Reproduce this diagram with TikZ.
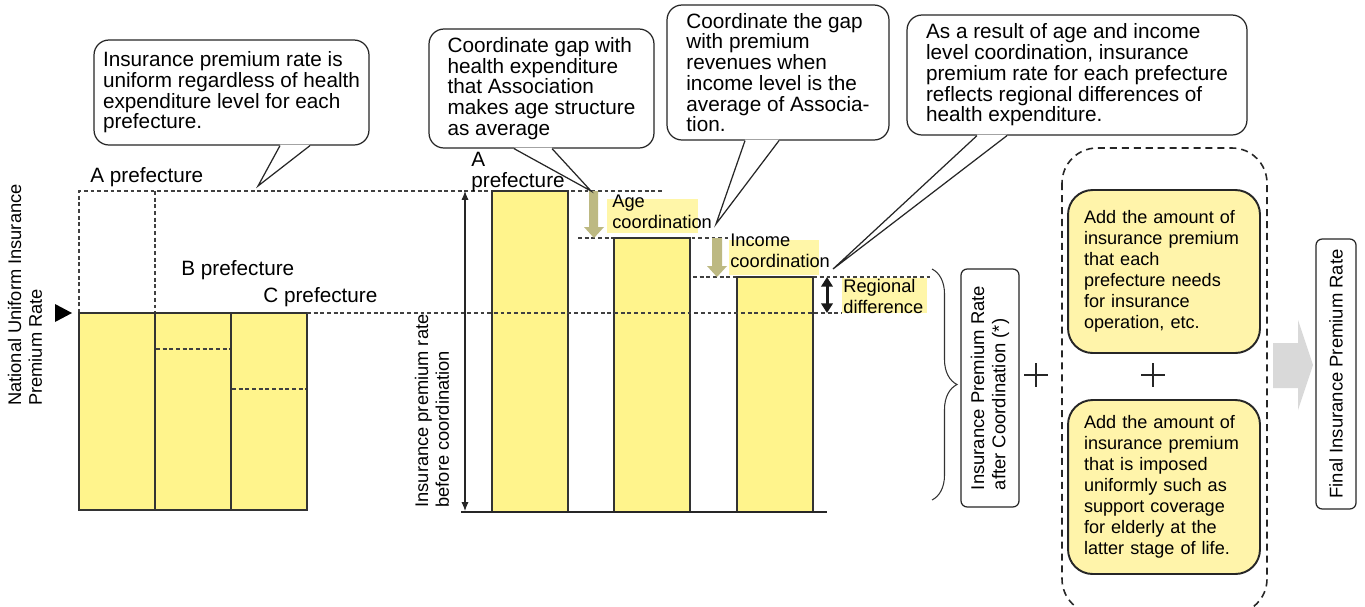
\documentclass[tikz,border=0pt]{standalone}
\usepackage{fontspec}
\setmainfont{Liberation Sans}
\usetikzlibrary{arrows.meta,decorations.pathreplacing}
\definecolor{barfill}{HTML}{FFF48C}
\definecolor{hilitefill}{HTML}{FFF6A8}
\definecolor{addfill}{HTML}{FFF4AA}
\definecolor{olivearrow}{HTML}{BDB982}
\definecolor{grayarrow}{HTML}{D9D9D9}
\begin{document}
\begin{tikzpicture}[x=0.02cm,y=-0.02cm,
  bar/.style={draw=black!80,line width=0.8pt,fill=barfill},
  guide/.style={draw=black!75,line width=0.6pt,dash pattern=on 2.2pt off 1.6pt},
  bubble/.style={draw=black!85,line width=0.7pt,fill=white,rounded corners=8.5pt,align=left,inner sep=0pt,font=\fontsize{11.8}{11.8}\selectfont},
  tailline/.style={draw=black!85,line width=0.7pt},
  big/.style={inner sep=0pt,font=\fontsize{11.8}{11.6}\selectfont},
  small/.style={inner sep=0pt,font=\fontsize{10.4}{11.8}\selectfont},
  addbox/.style={draw=black!85,line width=1.1pt,fill=addfill,rounded corners=14pt,align=left,text width=3.2cm,inner xsep=0.32cm,minimum width=3.84cm,font=\fontsize{10.3}{12}\selectfont},
  ratebox/.style={draw=black!85,line width=0.7pt,rounded corners=3.5pt,rotate=90,align=left,inner sep=0pt,font=\fontsize{10.5}{12}\selectfont},
  plus/.style={draw=black!85,line width=0.8pt},
]
\clip (0,0) rectangle (1365,606);
\fill[white] (0,0) rectangle (1365,606);

\draw[guide] (79,313) -- (79,191) -- (662,191);
\draw[guide] (155,191) -- (155,313);
\draw[guide] (578,238) -- (728,238);
\draw[guide] (693,277) -- (930,277);

\draw[bar] (79,313) rectangle (155,510);
\draw[bar] (155,313) rectangle (231,510);
\draw[bar] (231,313) rectangle (307,510);
\draw[guide] (156,349) -- (230,349);
\draw[guide] (232,389) -- (306,389);

\draw[bar] (492,191) rectangle (568,512);
\draw[bar] (614,238) rectangle (690,512);
\draw[bar] (737,277) rectangle (813,512);
\draw[guide] (307,313) -- (842,313);
\draw[black!85,line width=1.6pt] (461,512) -- (827,512);

\fill[black] (55,304) -- (72,313) -- (55,322) -- cycle;

\coordinate (ratetop) at (465,191);
\coordinate (ratebot) at (465,511);
\draw[black!85,line width=0.6pt,{Latex[length=5pt,width=4pt]}-{Latex[length=5pt,width=4pt]}] (ratetop) -- (ratebot);

\fill[olivearrow] (589,191) -- (598,191) -- (598,227) -- (604,227) -- (594,238) -- (584,227) -- (589,227) -- cycle;
\fill[olivearrow] (712,238) -- (722,238) -- (722,266) -- (727,266) -- (717,277) -- (707,266) -- (712,266) -- cycle;

\coordinate (regtop) at (827,277);
\coordinate (regbot) at (827,313);
\draw[black!90,line width=1.7pt,{Triangle[length=5.5pt,width=6.5pt]}-{Triangle[length=5.5pt,width=6.5pt]}] (regtop) -- (regbot);

\fill[hilitefill] (607,199) rectangle (698,233);
\fill[hilitefill] (729,240) rectangle (819,275);
\fill[hilitefill] (842,278) rectangle (927,313);

\node[bubble,minimum width=5.5cm,minimum height=2.1cm] (c1) at (231.5,92.5) {Insurance premium rate is\\uniform regardless of health\\expenditure level for each\\prefecture.};
\node[bubble,minimum width=4.5cm,minimum height=2.38cm] (c2) at (541.5,88.5) {Coordinate gap with\\health expenditure\\that Association\\makes age structure\\as average};
\node[bubble,minimum width=4.44cm,minimum height=2.7cm] (c3) at (778,72.5) {Coordinate the gap\\with premium\\revenues when\\income level is the\\average of Associa-\\tion.};
\node[bubble,minimum width=6.8cm,minimum height=2.4cm] (c4) at (1077,75) {As a result of age and income\\level coordination, insurance\\premium rate for each prefecture\\reflects regional differences of\\health expenditure.};

\coordinate (t1) at (258,186);
\coordinate (t2) at (591,191);
\coordinate (t3) at (716,224);
\coordinate (t4) at (833,269);
\fill[white] ([shift={(48.5,-1)}]c1.south) -- (t1) -- ([shift={(78.5,-1)}]c1.south) -- cycle;
\draw[tailline] ([shift={(48.5,0)}]c1.south) -- (t1) -- ([shift={(78.5,0)}]c1.south);
\fill[white] ([shift={(-27.5,-1)}]c2.south) -- (t2) -- ([shift={(10.5,-1)}]c2.south) -- cycle;
\draw[tailline] ([shift={(-27.5,0)}]c2.south) -- (t2) -- ([shift={(10.5,0)}]c2.south);
\fill[white] ([shift={(-33,-1)}]c3.south) -- (t3) -- ([shift={(1,-1)}]c3.south) -- cycle;
\draw[tailline] ([shift={(-33,0)}]c3.south) -- (t3) -- ([shift={(1,0)}]c3.south);
\fill[white] ([shift={(-100,-1)}]c4.south) -- (t4) -- ([shift={(-70,-1)}]c4.south) -- cycle;
\draw[tailline] ([shift={(-100,0)}]c4.south) -- (t4) -- ([shift={(-70,0)}]c4.south);

\node[big,anchor=west] (pa) at (90,177) {A prefecture};
\node[big,anchor=west] (pb) at (181,270) {B prefecture};
\node[big,anchor=west] (pc) at (263,297) {C prefecture};
\node[big,anchor=north west,align=left] (pa2) at (471,152) {A\\prefecture};

\node[small,anchor=north west,align=left] (age) at (612,195) {Age\\coordination};
\node[small,anchor=north west,align=left] (inc) at (730,234) {Income\\coordination};
\node[small,anchor=north west,align=left] (reg) at (843,279) {Regional\\difference};

\node[small,rotate=90,align=left] (nat) at (25,295) {National Uniform Insurance\\Premium Rate};
\node[small,rotate=90,align=left] (before) at (432,411) {Insurance premium rate\\before coordination};

\draw[black!80,line width=0.6pt,decorate,decoration={brace,amplitude=0.5cm}] (932,269) -- (932,500);

\node[ratebox,minimum width=4.76cm,minimum height=1.16cm] (after) at (990,388) {Insurance Premium Rate\\after Coordination (*)};
\draw[plus] (1024,375) -- (1048,375) (1036,363) -- (1036,387);

\draw[black!85,line width=0.9pt,dash pattern=on 4pt off 2.8pt,rounded corners=20pt] (1062,148) rectangle (1267,614);
\node[addbox,minimum height=3.26cm] (add1) at (1164,271.5) {Add the amount of\\insurance premium\\that each\\prefecture needs\\for insurance\\operation, etc.};
\node[addbox,minimum height=3.48cm] (add2) at (1164,487) {Add the amount of\\insurance premium\\that is imposed\\uniformly such as\\support coverage\\for elderly at the\\latter stage of life.};
\draw[plus] (1141,375) -- (1165,375) (1153,363) -- (1153,387);

\fill[grayarrow] (1273,343) -- (1298,343) -- (1298,320) -- (1313,365) -- (1298,410) -- (1298,388) -- (1273,388) -- cycle;
\node[ratebox,minimum width=5.4cm,minimum height=0.8cm] (final) at (1336,374) {Final Insurance Premium Rate};
\end{tikzpicture}
\end{document}
